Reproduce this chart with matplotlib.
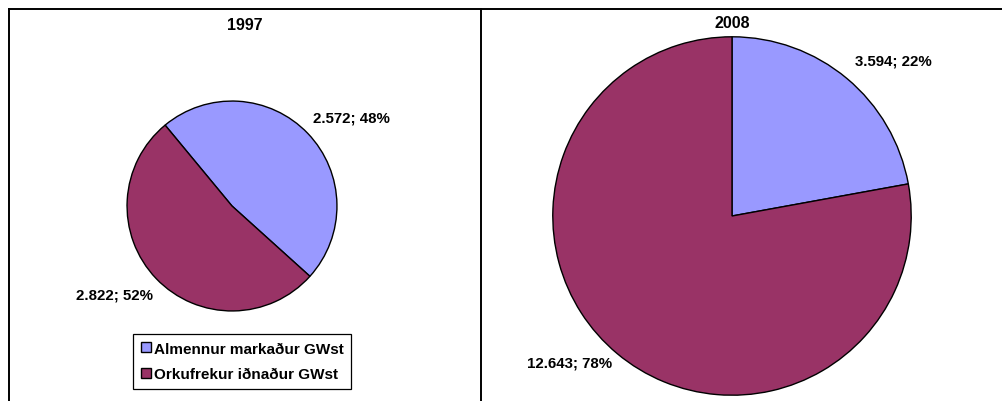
import matplotlib.pyplot as plt
from matplotlib.lines import Line2D

plt.rcParams['font.family'] = ['Liberation Sans', 'DejaVu Sans']

W, H = 1002, 402

categories = ['Almennur markaður GWst', 'Orkufrekur iðnaður GWst']
years = ['1997', '2008']
values_1997 = [2.572, 2.822]
values_2008 = [3.594, 12.643]
pct_1997 = [48, 52]
pct_2008 = [22, 78]
colors = ['#9999FF', '#993366']

fig = plt.figure(figsize=(W / 100, H / 100), dpi=100)


def px_axes(cx, cy, r):
    # square axes centred on pixel (cx, cy) with radius r pixels
    return fig.add_axes([(cx - r) / W, (H - cy - r) / H, 2 * r / W, 2 * r / H])


def draw_pie(ax, vals, start):
    wedges, _ = ax.pie(vals, colors=colors, startangle=start, counterclock=False,
                       radius=1.0, wedgeprops=dict(edgecolor='black', linewidth=1.0))
    ax.set_xlim(-1.01, 1.01)
    ax.set_ylim(-1.01, 1.01)
    ax.set_aspect('equal')
    ax.axis('off')
    return wedges


ax1 = px_axes(232, 207, 106)
w1 = draw_pie(ax1, values_1997, 129.6)
ax2 = px_axes(732, 217, 181)
w2 = draw_pie(ax2, values_2008, 90)


def fmt(v, p):
    return f"{v:.3f}; {p}%"


# data labels
lab_style = dict(fontsize=10.8, fontweight='bold', ha='center', va='center')
fig.text(351 / W, 1 - 119 / H, fmt(values_1997[0], pct_1997[0]), **lab_style)
fig.text(114 / W, 1 - 296 / H, fmt(values_1997[1], pct_1997[1]), **lab_style)
fig.text(893 / W, 1 - 62 / H, fmt(values_2008[0], pct_2008[0]), **lab_style)
fig.text(570 / W, 1 - 363 / H, fmt(values_2008[1], pct_2008[1]), **lab_style)

# titles
fig.text(245 / W, 1 - 26 / H, years[0], fontsize=11.5, fontweight='bold', ha='center', va='center')
fig.text(732 / W, 1 - 24 / H, years[1], fontsize=11.5, fontweight='bold', ha='center', va='center')

# panel borders
for xs, ys in [([8.5, 8.5], [H, 10]), ([8.5, W], [10, 10]), ([480.5, 480.5], [H, 10])]:
    fig.add_artist(Line2D([x / W for x in xs], [1 - y / H for y in ys],
                          color='black', linewidth=1.4, transform=fig.transFigure))

leg = fig.legend(w1, categories, loc='upper left',
                 bbox_to_anchor=(133 / W, 1 - 335 / H), bbox_transform=fig.transFigure,
                 prop={'weight': 'bold', 'size': 11}, frameon=True, fancybox=False,
                 edgecolor='black', framealpha=1, handlelength=0.65, handleheight=0.65,
                 handletextpad=0.2, labelspacing=0.75, borderpad=0.5, borderaxespad=0)
leg.get_frame().set_linewidth(0.9)

fig.savefig('out.png', dpi=100)
